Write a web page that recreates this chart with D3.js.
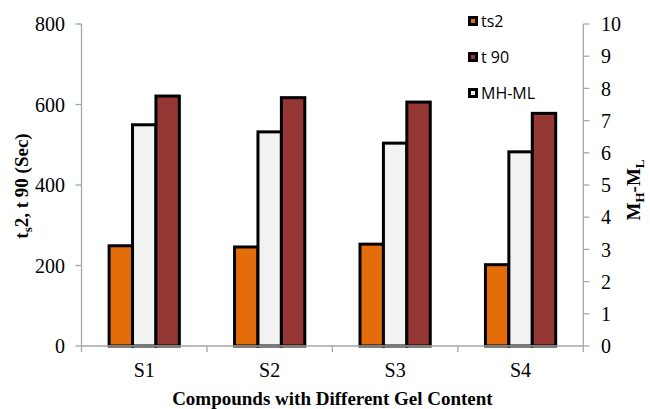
<!DOCTYPE html>
<html>
<head>
<meta charset="utf-8">
<script src="https://cdn.jsdelivr.net/npm/d3@7"></script>
<style>
  html, body { margin: 0; padding: 0; background: #fff; }
  svg { display: block; }
</style>
</head>
<body>
<svg id="chart" width="650" height="409"></svg>
<script>
// ---- data ----
const categories = ["S1", "S2", "S3", "S4"];
const ts2 = [249, 246, 253, 202];          // seconds, left axis
const t90 = [621, 617, 606, 578];          // seconds, left axis
const mhml = [6.87, 6.65, 6.3, 6.03];      // right axis
const leftTicks = [0, 200, 400, 600, 800];
const rightTicks = [0, 1, 2, 3, 4, 5, 6, 7, 8, 9, 10];

const seriesOrder = ["ts2", "MH-ML", "t 90"];
const legendOrder = ["ts2", "t 90", "MH-ML"];
const colors = { "ts2": "#E46C0A", "t 90": "#953735", "MH-ML": "#F2F2F2" };

const svg = d3.select("#chart");
const L = 81.5, R = 583.3, T = 24, B = 346;
const gray = "#A6A6A6";
const serif = "'Liberation Serif', 'Times New Roman', serif";

const yL = d3.scaleLinear().domain([0, 800]).range([B, T]);
const yR = d3.scaleLinear().domain([0, 10]).range([B, T]);
const x0 = d3.scaleBand().domain(categories).range([L, R]).padding(0);
const bw = x0.bandwidth();
const gw = bw * 0.56;
const x1 = d3.scaleBand().domain(seriesOrder).range([(bw - gw) / 2, (bw + gw) / 2]);

const rows = categories.map((c, i) => ({
  cat: c,
  vals: [
    { s: "ts2", v: ts2[i], y: yL },
    { s: "MH-ML", v: mhml[i], y: yR },
    { s: "t 90", v: t90[i], y: yL }
  ]
}));

// bars
const g = svg.append("g");
rows.forEach(r => {
  r.vals.forEach(d => {
    g.append("rect")
      .attr("x", x0(r.cat) + x1(d.s))
      .attr("y", d.y(d.v))
      .attr("width", x1.bandwidth())
      .attr("height", B - d.y(d.v))
      .attr("fill", colors[d.s])
      .attr("stroke", "#000")
      .attr("stroke-width", 3);
  });
});

// axes
const ga = svg.append("g").attr("stroke", gray).attr("stroke-width", 1.3);
ga.append("line").attr("x1", L).attr("x2", L).attr("y1", T).attr("y2", B);
leftTicks.forEach(t => {
  ga.append("line").attr("x1", L - 6).attr("x2", L).attr("y1", yL(t)).attr("y2", yL(t));
});
ga.append("line").attr("x1", R).attr("x2", R).attr("y1", T).attr("y2", B);
rightTicks.forEach(t => {
  ga.append("line").attr("x1", R).attr("x2", R + 6).attr("y1", yR(t)).attr("y2", yR(t));
});
ga.append("line").attr("x1", L).attr("x2", R).attr("y1", B).attr("y2", B);
const edges = categories.map(c => x0(c)).concat([R]);
edges.forEach(e => {
  ga.append("line").attr("x1", e).attr("x2", e).attr("y1", B).attr("y2", B + 6);
});

// tick labels
const tl = svg.append("g").attr("font-family", serif).attr("font-size", 20).attr("fill", "#000");
leftTicks.forEach(t => {
  tl.append("text").attr("x", 65).attr("y", yL(t)).attr("dy", "0.36em")
    .attr("text-anchor", "end").text(t);
});
rightTicks.forEach(t => {
  tl.append("text").attr("x", 601).attr("y", yR(t)).attr("dy", "0.36em")
    .attr("text-anchor", "start").text(t);
});
categories.forEach(c => {
  tl.append("text").attr("x", x0(c) + bw / 2).attr("y", 376.5)
    .attr("text-anchor", "middle").text(c);
});

// axis titles
svg.append("text")
  .attr("x", (L + R) / 2).attr("y", 405)
  .attr("text-anchor", "middle")
  .attr("font-family", serif).attr("font-size", 19).attr("font-weight", "bold")
  .text("Compounds with Different Gel Content");

const lt = svg.append("text")
  .attr("transform", "translate(28,186) rotate(-90)")
  .attr("text-anchor", "middle")
  .attr("font-family", serif).attr("font-size", 19).attr("font-weight", "bold");
lt.append("tspan").text("t");
lt.append("tspan").attr("font-size", 13).attr("dy", 4).text("s");
lt.append("tspan").attr("dy", -4).text("2, t 90 (Sec)");

const rt = svg.append("text")
  .attr("transform", "translate(640,190) rotate(-90)")
  .attr("text-anchor", "middle")
  .attr("font-family", serif).attr("font-size", 19).attr("font-weight", "bold");
rt.append("tspan").text("M");
rt.append("tspan").attr("font-size", 13).attr("dy", 4).text("H");
rt.append("tspan").attr("dy", -4).text("-M");
rt.append("tspan").attr("font-size", 13).attr("dy", 4).text("L");

// legend
const lg = svg.append("g");
legendOrder.forEach((s, i) => {
  const cy = 21 + i * 36;
  lg.append("rect").attr("x", 469.5).attr("y", cy - 3.5).attr("width", 7).attr("height", 7)
    .attr("fill", colors[s]).attr("stroke", "#000").attr("stroke-width", 3);
  lg.append("text").attr("x", 481).attr("y", cy).attr("dy", "0.36em")
    .attr("font-family", "'Open Sans', 'Noto Sans', sans-serif").attr("font-size", 16)
    .attr("fill", "#000").text(s);
});
</script>
</body>
</html>
